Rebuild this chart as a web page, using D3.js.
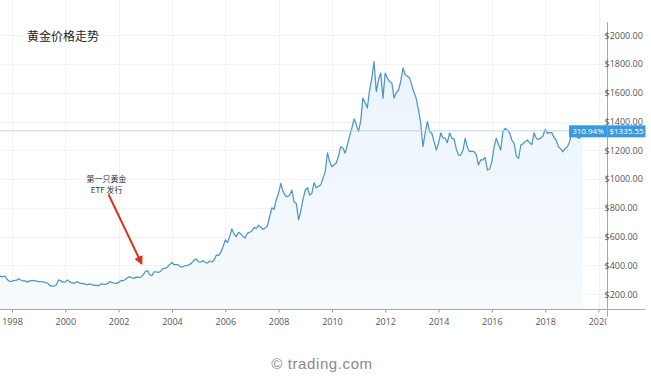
<!DOCTYPE html>
<html><head><meta charset="utf-8">
<script src="https://cdn.jsdelivr.net/npm/d3@7"></script>
<style>
html,body{margin:0;padding:0;background:#fff;}
svg{display:block;}
</style></head>
<body>
<svg id="chart" width="651" height="378"></svg>
<script>
// ---- data ----
const startYear = 1997, startMonth = 7;   // first value = July 1997, monthly
const prices = [
  323, 324, 323, 325, 300, 289,
  289, 297, 296, 308, 299, 292, 293, 284, 293, 296, 294, 291,
  287, 287, 286, 282, 277, 262, 256, 257, 265, 300, 293, 284,
  285, 300, 286, 280, 275, 286, 282, 275, 273, 270, 266, 272,
  266, 262, 263, 258, 272, 270, 268, 273, 287, 283, 276, 275,
  282, 296, 294, 302, 314, 322, 314, 310, 319, 317, 319, 333,
  357, 365, 336, 328, 355, 356, 351, 360, 379, 379, 389, 407,
  420, 405, 406, 404, 388, 392, 398, 400, 405, 420, 439, 444,
  424, 423, 434, 420, 417, 431, 424, 438, 472, 470, 490, 530,
  577, 560, 600, 653, 620, 600, 630, 620, 600, 590, 625, 630,
  640, 665, 655, 680, 665, 650, 660, 674, 740, 800, 790, 860,
  900, 970, 915, 885, 878, 890, 924, 840, 830, 716, 780, 860,
  924, 940, 889, 900, 975, 940, 950, 960, 1007, 1050, 1183, 1120,
  1086, 1100, 1112, 1160, 1225, 1215, 1180, 1240, 1300, 1355, 1418, 1380,
  1330, 1410, 1563, 1530, 1494, 1619, 1700, 1816, 1608, 1690, 1737, 1563,
  1737, 1700, 1677, 1668, 1563, 1600, 1619, 1680, 1772, 1723, 1715, 1702,
  1650, 1598, 1560, 1480, 1390, 1225, 1320, 1399, 1330, 1318, 1260, 1202,
  1250, 1322, 1285, 1285, 1253, 1322, 1283, 1280, 1210, 1167, 1167, 1200,
  1283, 1220, 1190, 1195, 1190, 1170, 1098, 1133, 1133, 1150, 1063, 1070,
  1120, 1225, 1283, 1240, 1202, 1330, 1353, 1340, 1320, 1270, 1249, 1160,
  1144, 1237, 1245, 1260, 1272, 1253, 1240, 1322, 1283, 1276, 1285, 1300,
  1346, 1318, 1325, 1322, 1290, 1270, 1225, 1210, 1190, 1214, 1225, 1260,
  1330, 1322, 1300, 1283, 1290, 1335.55
];
const xTickYears = [1998, 2000, 2002, 2004, 2006, 2008, 2010, 2012, 2014, 2016, 2018, 2020];
const yTickValues = [200, 400, 600, 800, 1000, 1200, 1400, 1600, 1800, 2000];
const title = "黄金价格走势";
const annotationLines = ["第一只黄金", "ETF 发行"];
const annotationDate = "2003-02";
const lastPrice = 1335.55;
const changeLabel = "310.94%";
const watermark = "© trading.com";

const data = prices.map((v, i) => ({
  date: new Date(startYear, startMonth - 1 + i, 1),
  value: v
}));

// ---- layout ----
const svg = d3.select("#chart");
const defs = svg.append("defs");
const x = d3.scaleTime()
  .domain([new Date(1998, 0, 1), new Date(2020, 0, 1)])
  .range([12, 598.5]);
const y = d3.scaleLinear().domain([0, 2000]).range([323, 35.2]);
const axisY = 309.5, rightX = 607.5;
const tickFont = "'Open Sans', 'Noto Sans', sans-serif";

// gridlines
const grid = svg.append("g");
grid.selectAll("line.h").data(yTickValues).join("line")
  .attr("x1", 0).attr("x2", rightX)
  .attr("y1", d => Math.round(y(d)) + 0.5).attr("y2", d => Math.round(y(d)) + 0.5)
  .attr("stroke", "#f1f2f4").attr("stroke-width", 1);
grid.selectAll("line.v").data(xTickYears).join("line")
  .attr("x1", d => Math.round(x(new Date(d, 0, 1))) + 0.5)
  .attr("x2", d => Math.round(x(new Date(d, 0, 1))) + 0.5)
  .attr("y1", 0).attr("y2", axisY)
  .attr("stroke", "#f1f2f4").attr("stroke-width", 1);

// area + line
const area = d3.area().x(d => x(d.date)).y0(axisY).y1(d => y(d.value));
const line = d3.line().x(d => x(d.date)).y(d => y(d.value));
const grad = defs.append("linearGradient")
  .attr("id", "fillGrad").attr("x1", 0).attr("x2", 0).attr("y1", 0).attr("y2", 1);
grad.append("stop").attr("offset", "0%").attr("stop-color", "#ebf4fb");
grad.append("stop").attr("offset", "100%").attr("stop-color", "#f6fafd");
svg.append("path").datum(data).attr("d", area).attr("fill", "url(#fillGrad)");
svg.append("path").datum(data).attr("d", line)
  .attr("fill", "none").attr("stroke", "#4c97c6").attr("stroke-width", 1.25)
  .attr("stroke-linejoin", "round");

// current price line
svg.append("line")
  .attr("x1", 0).attr("x2", rightX)
  .attr("y1", y(lastPrice)).attr("y2", y(lastPrice))
  .attr("stroke", "#b9d9e6").attr("stroke-width", 1);

// title
svg.append("rect").attr("x", 22).attr("y", 26).attr("width", 80).attr("height", 20).attr("fill", "#fff");
svg.append("text").attr("x", 27).attr("y", 41).text(title)
  .attr("font-family", "'Noto Sans CJK SC', sans-serif").attr("font-size", 12)
  .attr("fill", "#222");

// x axis
svg.append("line").attr("x1", 0).attr("x2", 645).attr("y1", axisY).attr("y2", axisY)
  .attr("stroke", "#a8a8a8").attr("stroke-width", 1);
defs.append("clipPath").attr("id", "xclip")
  .append("rect").attr("x", 0).attr("y", -10).attr("width", rightX - 1).attr("height", 40);
const xAxis = d3.axisBottom(x)
  .tickValues(xTickYears.map(d => new Date(d, 0, 1)))
  .tickFormat(d3.timeFormat("%Y"))
  .tickSize(3).tickPadding(6);
const gx = svg.append("g").attr("transform", `translate(0,${axisY})`)
  .attr("clip-path", "url(#xclip)")
  .call(xAxis);
gx.select(".domain").remove();
gx.selectAll(".tick line").attr("stroke", "#999");
gx.selectAll("text").attr("font-family", tickFont).attr("font-size", 9).attr("fill", "#555");

// right axis
svg.append("line").attr("x1", rightX).attr("x2", rightX).attr("y1", 22).attr("y2", 317)
  .attr("stroke", "#a8a8a8").attr("stroke-width", 1);
const yAxis = d3.axisRight(y).tickValues(yTickValues)
  .tickFormat(d => "$" + d3.format(".2f")(d)).tickSize(0).tickPadding(0);
const gy = svg.append("g").attr("transform", `translate(${rightX - 3},0)`).call(yAxis);
gy.select(".domain").remove();
gy.selectAll("text").attr("font-family", tickFont).attr("font-size", 9).attr("fill", "#555");

// price label
const py = y(lastPrice);
const lbl = svg.append("g");
lbl.append("rect").attr("x", 569).attr("y", py - 5.5).attr("width", 38).attr("height", 12).attr("fill", "#3a9ae0");
lbl.append("rect").attr("x", rightX).attr("y", py - 5.5).attr("width", 38).attr("height", 12).attr("fill", "#3a9ae0");
lbl.append("text").attr("x", 588).attr("y", py + 3.5).attr("text-anchor", "middle").text(changeLabel)
  .attr("font-family", tickFont).attr("font-size", 8).attr("fill", "#fff");
lbl.append("text").attr("x", 626.5).attr("y", py + 3.5).attr("text-anchor", "middle").text("$" + d3.format(".2f")(lastPrice))
  .attr("font-family", tickFont).attr("font-size", 8).attr("fill", "#fff");

// annotation
const target = data.find(d => d3.timeFormat("%Y-%m")(d.date) === annotationDate);
const tx = x(target.date), ty = y(target.value);
const tipX = tx - 6, tipY = ty - 7, startX = tx - 39, startY = ty - 76;
defs.append("marker").attr("id", "arrow")
  .attr("viewBox", "0 0 10 10").attr("refX", 8).attr("refY", 5)
  .attr("markerWidth", 4.5).attr("markerHeight", 4.5).attr("orient", "auto")
  .append("path").attr("d", "M0,0 L10,5 L0,10 z").attr("fill", "#d9331f");
svg.append("line").attr("x1", startX).attr("y1", startY).attr("x2", tipX).attr("y2", tipY)
  .attr("stroke", "#d9331f").attr("stroke-width", 2).attr("marker-end", "url(#arrow)");
svg.append("g").selectAll("text").data(annotationLines).join("text")
  .attr("x", startX - 2).attr("y", (d, i) => startY - 12.5 + i * 11)
  .attr("text-anchor", "middle").text(d => d)
  .attr("font-family", "'Noto Sans CJK SC', sans-serif").attr("font-size", 8)
  .attr("fill", "#333");

// watermark
svg.append("text").attr("x", 322).attr("y", 369).attr("text-anchor", "middle")
  .text(watermark).attr("font-family", "'Liberation Sans', Arial, sans-serif")
  .attr("font-size", 15).attr("fill", "#8a8a8a").attr("letter-spacing", 0.6);
</script>
</body></html>
